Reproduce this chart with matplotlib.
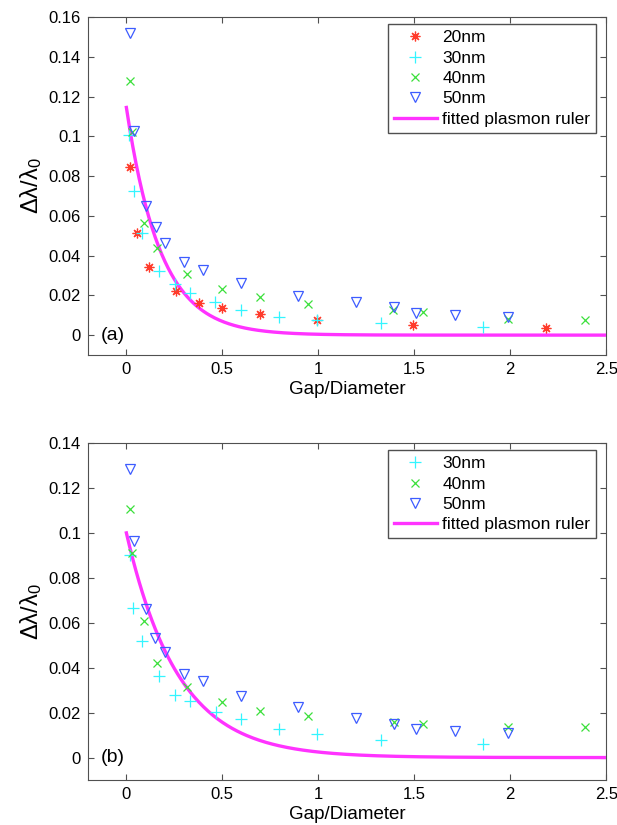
import matplotlib
matplotlib.use('Agg')
import matplotlib.pyplot as plt
import numpy as np

plt.rcParams['font.family'] = ['Liberation Sans', 'DejaVu Sans']
plt.rcParams['mathtext.fontset'] = 'custom'
plt.rcParams['mathtext.rm'] = 'Liberation Sans'
plt.rcParams['mathtext.it'] = 'Liberation Sans:italic'

# ---- panel (a) data: gap/diameter ratio vs fractional shift ----
a_x20 = [0.019, 0.057, 0.118, 0.258, 0.380, 0.496, 0.696, 0.995, 1.493, 2.185]
a_y20 = [0.0845, 0.0514, 0.0342, 0.0222, 0.0160, 0.0138, 0.0104, 0.0074, 0.0051, 0.0035]

a_x30 = [0.014, 0.040, 0.083, 0.172, 0.253, 0.331, 0.461, 0.595, 0.796, 0.995, 1.324, 1.857]
a_y30 = [0.1005, 0.0724, 0.0514, 0.0320, 0.0256, 0.0214, 0.0167, 0.0126, 0.0093, 0.0074, 0.0062, 0.0042]

a_x40 = [0.019, 0.031, 0.090, 0.158, 0.318, 0.498, 0.696, 0.946, 1.389, 1.543, 1.988, 2.389]
a_y40 = [0.1280, 0.1020, 0.0564, 0.0438, 0.0308, 0.0234, 0.0192, 0.0158, 0.0126, 0.0118, 0.0082, 0.0074]

a_x50 = [0.019, 0.040, 0.100, 0.153, 0.199, 0.300, 0.399, 0.597, 0.895, 1.194, 1.394, 1.510, 1.711, 1.988]
a_y50 = [0.1518, 0.1027, 0.0648, 0.0542, 0.0463, 0.0370, 0.0325, 0.0263, 0.0198, 0.0168, 0.0143, 0.0113, 0.0101, 0.0092]

a_amp, a_tau = 0.1145, 0.178

# ---- panel (b) data ----
b_x30 = [0.017, 0.036, 0.080, 0.172, 0.253, 0.331, 0.465, 0.597, 0.796, 0.995, 1.325, 1.857]
b_y30 = [0.0903, 0.0665, 0.0517, 0.0364, 0.0279, 0.0254, 0.0205, 0.0172, 0.0129, 0.0107, 0.0078, 0.0062]

b_x40 = [0.019, 0.031, 0.090, 0.159, 0.318, 0.498, 0.696, 0.946, 1.394, 1.543, 1.988, 2.389]
b_y40 = [0.1106, 0.0910, 0.0610, 0.0420, 0.0313, 0.0247, 0.0209, 0.0183, 0.0160, 0.0150, 0.0138, 0.0134]

b_x50 = [0.019, 0.040, 0.100, 0.149, 0.200, 0.300, 0.399, 0.597, 0.895, 1.194, 1.394, 1.510, 1.711, 1.988]
b_y50 = [0.1284, 0.0962, 0.0662, 0.0534, 0.0469, 0.0373, 0.0339, 0.0276, 0.0227, 0.0175, 0.0149, 0.0128, 0.0120, 0.0111]

b_amp, b_tau = 0.100, 0.27

x_ticks = [0, 0.5, 1, 1.5, 2, 2.5]
x_tick_labels = ['0', '0.5', '1', '1.5', '2', '2.5']
a_y_ticks = [0, 0.02, 0.04, 0.06, 0.08, 0.1, 0.12, 0.14, 0.16]
b_y_ticks = [0, 0.02, 0.04, 0.06, 0.08, 0.1, 0.12, 0.14]

RED = '#ff3b2b'
CYAN = '#33f5ff'
GREEN = '#3be03b'
BLUE = '#3d5cff'
MAGENTA = '#ff33ff'
SPINE = '#505050'


def style_axes(ax, yticks, ylim):
    ax.set_xlim(-0.2, 2.5)
    ax.set_ylim(*ylim)
    ax.set_xticks(x_ticks)
    ax.set_xticklabels(x_tick_labels)
    ax.set_yticks(yticks)
    ax.set_yticklabels(['%g' % t for t in yticks])
    ax.tick_params(direction='in', length=4.5, width=0.8, color=SPINE,
                   top=True, right=True, labelsize=12, pad=5)
    for s in ax.spines.values():
        s.set_color(SPINE)
        s.set_linewidth(0.8)
    ax.set_xlabel('Gap/Diameter', fontsize=13.5, labelpad=3)
    ax.set_ylabel('Δλ/λ$_0$', fontsize=17, labelpad=3)


def draw_fit(ax, amp, tau):
    xf = np.linspace(0, 2.5, 300)
    ax.plot(xf, amp * np.exp(-xf / tau), color=MAGENTA, lw=2.4,
            label='fitted plasmon ruler', zorder=3)


def add_legend(ax):
    ax.legend(loc='upper right', bbox_to_anchor=(0.981, 0.979), borderaxespad=0,
              fontsize=12.5, frameon=True, fancybox=False, framealpha=1,
              edgecolor=SPINE, handlelength=2.5, handletextpad=0.3,
              labelspacing=0.3, borderpad=0.35)


fig = plt.figure(figsize=(6.17, 8.25), dpi=100)
ax1 = fig.add_axes([0.1426, 0.5697, 0.8400, 0.4097])
ax2 = fig.add_axes([0.1426, 0.0545, 0.8400, 0.4085])

star = (8, 2, 0)

ax1.plot(a_x20, a_y20, ls='none', marker=star, ms=7, mec=RED, mew=0.9, label='20nm', zorder=4)
ax1.plot(a_x30, a_y30, ls='none', marker='+', ms=8, mec=CYAN, mew=0.9, label='30nm', zorder=4)
ax1.plot(a_x40, a_y40, ls='none', marker='x', ms=5.5, mec=GREEN, mew=0.9, label='40nm', zorder=4)
ax1.plot(a_x50, a_y50, ls='none', marker='v', ms=7.5, mfc='none', mec=BLUE, mew=0.9, label='50nm', zorder=4)
draw_fit(ax1, a_amp, a_tau)
style_axes(ax1, a_y_ticks, (-0.01, 0.16))
ax1.text(-0.135, 0.0, '(a)', fontsize=14, va='center', ha='left')
add_legend(ax1)

ax2.plot(b_x30, b_y30, ls='none', marker='+', ms=8, mec=CYAN, mew=0.9, label='30nm', zorder=4)
ax2.plot(b_x40, b_y40, ls='none', marker='x', ms=5.5, mec=GREEN, mew=0.9, label='40nm', zorder=4)
ax2.plot(b_x50, b_y50, ls='none', marker='v', ms=7.5, mfc='none', mec=BLUE, mew=0.9, label='50nm', zorder=4)
draw_fit(ax2, b_amp, b_tau)
style_axes(ax2, b_y_ticks, (-0.01, 0.14))
ax2.text(-0.135, 0.0, '(b)', fontsize=14, va='center', ha='left')
add_legend(ax2)

fig.savefig('out.png', dpi=100)
